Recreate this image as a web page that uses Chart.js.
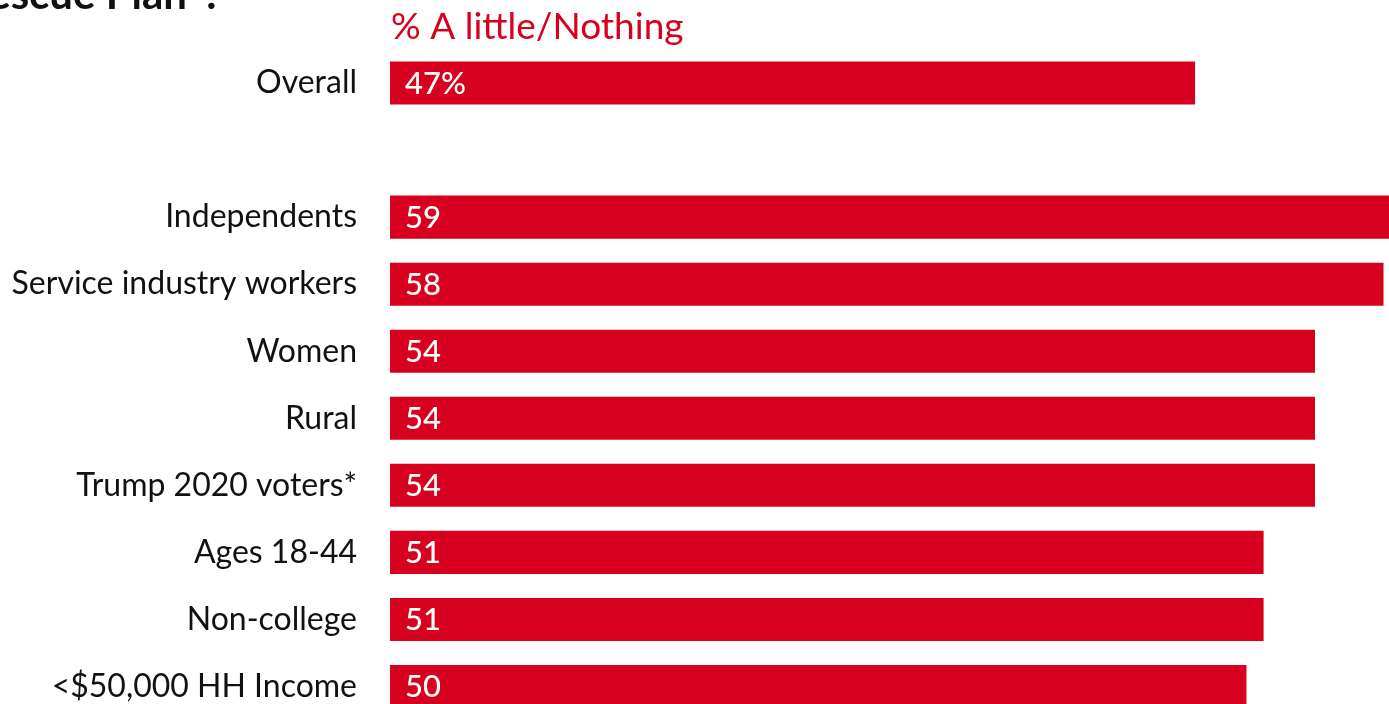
<!DOCTYPE html>
<html>
<head>
<meta charset="utf-8">
<script src="https://cdn.jsdelivr.net/npm/chart.js@4.4.0/dist/chart.umd.min.js"></script>
<style>
html,body{margin:0;padding:0;overflow:hidden;background:#fff;width:1389px;height:704px;}
#c{position:absolute;left:0;top:0;width:1389px;height:720px;}
</style>
</head>
<body>
<canvas id="c" width="1389" height="720"></canvas>
<script>
const categories = ["Overall", "", "Independents", "Service industry workers", "Women", "Rural", "Trump 2020 voters*", "Ages 18-44", "Non-college", "<$50,000 HH Income"];
const values = [47, null, 59, 58, 54, 54, 54, 51, 51, 50];
const valueLabels = ["47%", "", "59", "58", "54", "54", "54", "51", "51", "50"];
const seriesName = "% A little/Nothing";
const titleText = "American Rescue Plan\u201D?";

const RED = "#D7001E";
const FONT = "Lato, 'Open Sans', sans-serif";

const overlay = {
  id: "overlay",
  afterDatasetsDraw(chart) {
    const ctx = chart.ctx;
    const meta = chart.getDatasetMeta(0);
    ctx.save();
    ctx.fillStyle = "#fff";
    ctx.font = "500 31px " + FONT;
    ctx.textAlign = "left";
    ctx.textBaseline = "middle";
    meta.data.forEach((bar, i) => {
      if (values[i] == null) return;
      ctx.fillText(valueLabels[i], bar.base + 15, bar.y + 1);
    });
    // series header
    ctx.fillStyle = RED;
    ctx.font = "400 37px " + FONT;
    ctx.textBaseline = "alphabetic";
    ctx.fillText(seriesName, chart.chartArea.left + 1, 39);
    // cut-off title
    ctx.fillStyle = "#111";
    ctx.font = "700 42px " + FONT;
    ctx.textAlign = "right";
    ctx.fillText(titleText, 222, 9);
    ctx.restore();
  }
};

new Chart(document.getElementById("c"), {
  type: "bar",
  data: {
    labels: categories,
    datasets: [{
      label: seriesName,
      data: values,
      backgroundColor: RED,
      borderWidth: 0,
      barPercentage: 0.642,
      categoryPercentage: 1.0
    }]
  },
  options: {
    indexAxis: "y",
    responsive: false,
    maintainAspectRatio: false,
    animation: false,
    layout: { padding: { top: 49.5, bottom: 0, left: 0, right: 0 } },
    plugins: { legend: { display: false }, tooltip: { enabled: false }, title: { display: false } },
    scales: {
      x: {
        min: 0, max: 58.32,
        display: false,
        grid: { display: false }
      },
      y: {
        grid: { display: false, drawTicks: false },
        border: { display: false },
        ticks: { color: "#111", font: { family: FONT, size: 32 }, padding: 33, autoSkip: false },
        afterFit(scale) { scale.width = 390; scale.paddingTop = 0; scale.paddingBottom = 0; }
      }
    }
  },
  plugins: [overlay]
});
</script>
</body>
</html>
